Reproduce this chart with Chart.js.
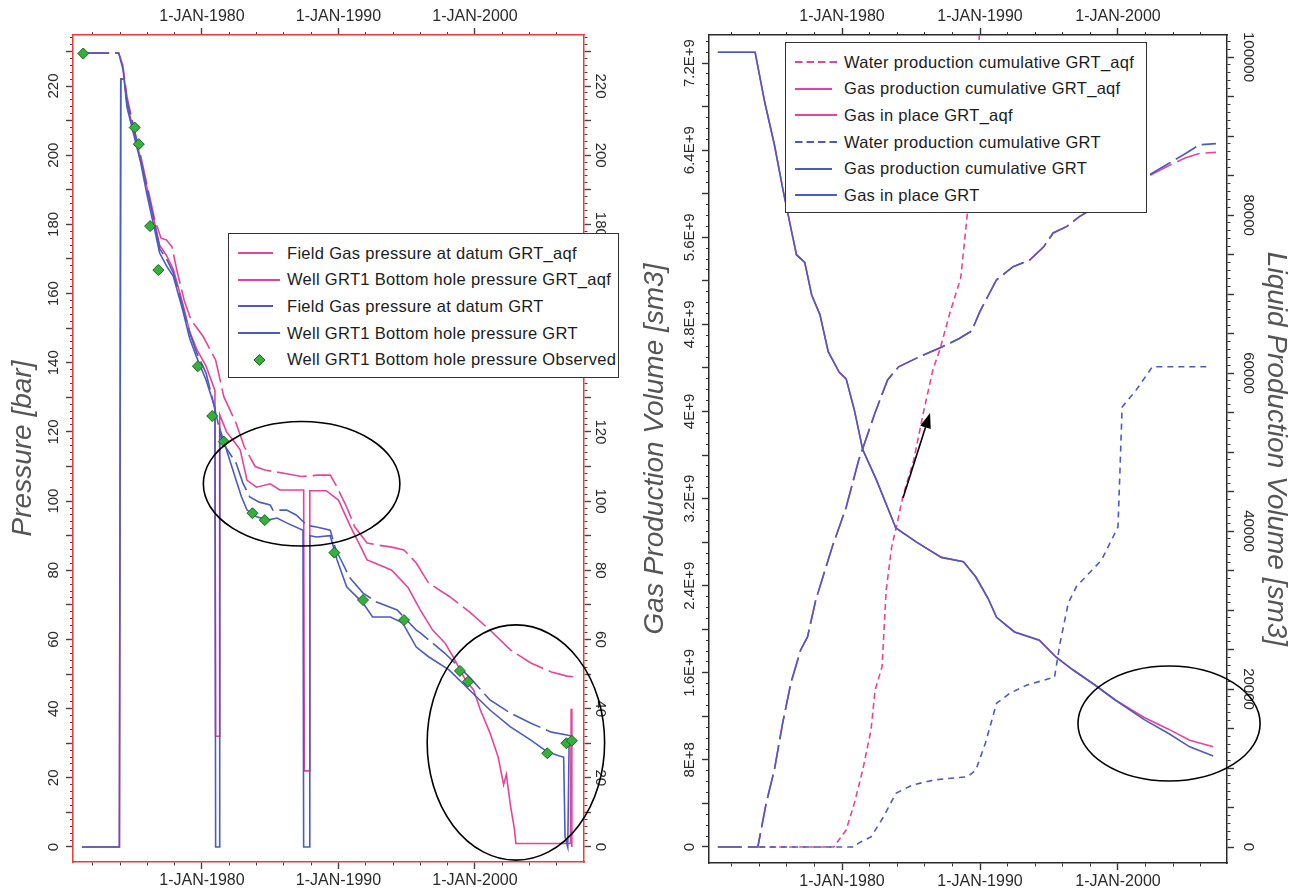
<!DOCTYPE html>
<html lang="en">
<head>
<meta charset="UTF-8">
<title>GRT pressure and production volumes</title>
<script src="https://cdn.jsdelivr.net/npm/chart.js@4.4.1/dist/chart.umd.min.js"></script>
<style>
  html, body { margin: 0; padding: 0; background: #fff; }
  #page { position: relative; width: 1289px; height: 891px; overflow: hidden; font-family: "Liberation Sans", Arial, sans-serif; }
  #page canvas { position: absolute; top: 0; }
  #pressure { left: 0; }
  #volume { left: 640px; }
  .legend { position: absolute; box-sizing: border-box; background: #fff; border: 1.5px solid #333; padding: 6px 0 0 9px; }
  .legend .row { display: flex; align-items: center; height: 26.6px; font-size: 16.5px; letter-spacing: 0.3px; color: #1c1c1c; white-space: nowrap; }
  .legend svg { flex: none; width: 49px; height: 12px; }
  #legendA { left: 228px; top: 233px; width: 391px; height: 145px; }
  #legendB { left: 785px; top: 42px; width: 362px; height: 171px; }
</style>
</head>
<body>
<div id="page">
  <canvas id="pressure" width="640" height="891"></canvas>
  <canvas id="volume" width="649" height="891"></canvas>
  <div class="legend" id="legendA"></div>
  <div class="legend" id="legendB"></div>
</div>

<script>
  // ---- pressure plot (left), [year, bar]
  const fieldAqf = [
    [1971.0, 229.5], [1973.9, 229.5], [1974.2, 226], [1974.5, 217], [1975.0, 208], [1975.5, 200],
    [1976.0, 191], [1976.5, 182], [1977.0, 176], [1977.4, 175.5], [1977.8, 173.5], [1978.2, 166],
    [1978.7, 158], [1979.2, 152.4], [1980.1, 147.5], [1981.0, 140.8], [1981.6, 130.2], [1982.5, 122.5],
    [1983.1, 115.7], [1983.9, 110], [1984.6, 109], [1985.3, 108.5], [1986.1, 108], [1987.3, 107.1],
    [1988.5, 107.5], [1989.4, 107.5], [1989.9, 104], [1990.6, 98.3], [1991.2, 92.5], [1992.1, 87.9],
    [1993.0, 87.2], [1993.9, 86.7], [1994.8, 85.9], [1995.7, 82.1], [1996.6, 76.3], [1998.1, 72.5],
    [1999.6, 68], [2001.1, 62.7], [2002.6, 57], [2004.1, 53.2], [2005.6, 50.6], [2006.75, 49.4], [2007.2, 49.2]
  ];
  const wellAqf = [
    [1971.2, 0], [1973.95, 0], [1974.05, 222], [1974.3, 222], [1974.5, 215], [1975.0, 207], [1975.5, 199],
    [1976.0, 190], [1976.5, 181], [1976.9, 174], [1977.4, 171], [1977.9, 167], [1978.6, 157], [1979.1, 149],
    [1979.6, 144], [1980.3, 139], [1980.95, 132], [1981.0, 32], [1981.25, 32], [1981.3, 125], [1981.8, 120],
    [1982.3, 117.5], [1982.8, 114.8], [1983.3, 106], [1984.0, 104], [1985.0, 105], [1985.7, 103.2],
    [1987.45, 103.2], [1987.5, 22], [1987.85, 22], [1987.9, 103], [1989.1, 103], [1990.0, 100.3],
    [1990.9, 92.5], [1991.5, 87.8], [1992.1, 83], [1992.7, 82], [1993.9, 80], [1995.1, 75], [1996.0, 68.5],
    [1996.9, 62.7], [1997.8, 59], [1998.4, 55], [1999.3, 48.3], [1999.9, 45.4], [2000.4, 39.6], [2001.1, 33],
    [2001.7, 26], [2002.1, 18], [2002.3, 21], [2002.6, 12], [2002.9, 5], [2003.0, 1], [2007.0, 1],
    [2007.05, 40], [2007.1, 0]
  ];
  const fieldGrt = [
    [1971.0, 229.5], [1973.9, 229.5], [1974.2, 225], [1974.5, 216], [1975.0, 208], [1975.5, 199],
    [1976.0, 190], [1976.5, 181], [1976.9, 173], [1977.4, 170], [1977.9, 166], [1978.6, 156],
    [1979.1, 148.6], [1979.6, 143], [1980.3, 137], [1980.8, 129], [1981.5, 117], [1982.5, 111],
    [1983.0, 105.2], [1983.5, 101.2], [1984.2, 99.7], [1985.0, 98.9], [1985.2, 97.4], [1986.2, 97.4],
    [1986.9, 96], [1987.7, 93], [1988.4, 92.5], [1989.4, 91.6], [1989.8, 86], [1990.3, 82.1], [1990.8, 78],
    [1991.8, 73.4], [1992.8, 70.8], [1994.3, 68.5], [1995.7, 62.7], [1996.0, 61.9], [1997.8, 56],
    [1999.6, 49.1], [2001.1, 42.5], [2002.6, 38.7], [2004.1, 35.8], [2005.6, 33.2], [2006.75, 32.4], [2007.1, 32]
  ];
  const wellGrt = [
    [1971.2, 0], [1973.95, 0], [1974.05, 222], [1974.3, 222], [1974.5, 214], [1975.0, 206], [1975.5, 198],
    [1976.0, 188], [1976.5, 179], [1976.9, 171.7], [1977.4, 168], [1977.9, 165], [1978.6, 155], [1979.1, 147],
    [1979.6, 141.7], [1980.3, 135], [1980.95, 127], [1981.0, 0], [1981.25, 0], [1981.3, 121], [1981.8, 114.8],
    [1982.5, 106], [1982.9, 101.2], [1983.3, 97.4], [1984.0, 95.5], [1984.8, 94.5], [1985.5, 95.1],
    [1986.2, 93.7], [1987.4, 91.6], [1987.45, 0], [1987.85, 0], [1987.9, 90], [1988.4, 89.6], [1989.4, 90],
    [1989.9, 83], [1990.6, 75.2], [1991.8, 70.5], [1992.5, 66.5], [1993.8, 66.5], [1994.7, 64.8],
    [1995.7, 57.8], [1996.6, 55], [1998.1, 51.2], [1999.6, 45.4], [2001.1, 39.6], [2002.6, 34.7],
    [2004.1, 30.9], [2005.3, 27.5], [2006.2, 26.3], [2006.5, 26], [2006.6, 3], [2006.8, 0], [2006.9, 30]
  ];
  const observed = [
    [1971.3, 229.4], [1975.07, 208], [1975.37, 203.2], [1976.2, 179.5], [1976.8, 166.8], [1979.7, 139],
    [1980.75, 124.6], [1981.6, 117.2], [1983.7, 96.5], [1984.6, 94.5], [1989.7, 85.1], [1991.8, 71.4],
    [1994.8, 65.6], [1998.9, 50.9], [1999.5, 47.8], [2005.3, 27.1], [2006.7, 30], [2007.1, 30.7]
  ];

  // ---- volume plot (right), gas [year, sm3], water [year, sm3]
  const gipGrt = [
    [1971.0, 7.30e9], [1973.7, 7.30e9], [1974.4, 6.84e9], [1975.1, 6.45e9], [1975.7, 6.05e9], [1976.4, 5.62e9],
    [1976.7, 5.44e9], [1977.3, 5.37e9], [1977.8, 5.07e9], [1978.4, 4.89e9], [1979.0, 4.55e9], [1979.8, 4.36e9],
    [1980.3, 4.30e9], [1980.9, 4.01e9], [1981.5, 3.65e9], [1982.5, 3.37e9], [1983.9, 2.93e9], [1985.4, 2.80e9],
    [1987.2, 2.66e9], [1988.8, 2.62e9], [1989.7, 2.48e9], [1990.6, 2.28e9], [1991.2, 2.11e9], [1992.5, 1.975e9],
    [1994.3, 1.90e9], [1995.5, 1.745e9], [1996.7, 1.63e9], [1998.3, 1.49e9], [1999.8, 1.35e9], [2001.9, 1.17e9],
    [2003.7, 1.04e9], [2005.2, 0.92e9], [2006.9, 0.836e9]
  ];
  const gipAqf = [
    [1971.0, 7.30e9], [1973.7, 7.30e9], [1974.4, 6.84e9], [1975.1, 6.45e9], [1975.7, 6.05e9], [1976.4, 5.62e9],
    [1976.7, 5.44e9], [1977.3, 5.37e9], [1977.8, 5.07e9], [1978.4, 4.89e9], [1979.0, 4.55e9], [1979.8, 4.36e9],
    [1980.3, 4.30e9], [1980.9, 4.01e9], [1981.5, 3.65e9], [1982.5, 3.37e9], [1983.9, 2.93e9], [1985.4, 2.80e9],
    [1987.2, 2.66e9], [1988.8, 2.62e9], [1989.7, 2.48e9], [1990.6, 2.28e9], [1991.2, 2.11e9], [1992.5, 1.975e9],
    [1994.3, 1.90e9], [1995.5, 1.745e9], [1996.7, 1.63e9], [1998.3, 1.49e9], [1999.8, 1.35e9], [2001.9, 1.19e9],
    [2003.7, 1.08e9], [2005.2, 0.98e9], [2006.9, 0.92e9]
  ];
  const gasProdGrt = [
    [1971.0, 0], [1973.9, 0], [1974.5, 0.40e9], [1975.1, 0.71e9], [1975.7, 1.14e9], [1976.3, 1.51e9],
    [1977.0, 1.81e9], [1977.5, 1.93e9], [1978.1, 2.27e9], [1979.3, 2.76e9], [1980.3, 3.12e9], [1981.2, 3.55e9],
    [1982.4, 3.99e9], [1983.3, 4.29e9], [1984.1, 4.41e9], [1985.4, 4.49e9], [1987.2, 4.59e9], [1988.5, 4.67e9],
    [1989.4, 4.74e9], [1990.0, 4.92e9], [1991.2, 5.21e9], [1992.4, 5.33e9], [1993.6, 5.39e9], [1994.6, 5.51e9],
    [1995.3, 5.64e9], [1996.3, 5.70e9], [1997.2, 5.79e9], [1998.0, 5.85e9], [1999.5, 5.95e9], [2001.0, 6.08e9],
    [2002.5, 6.19e9], [2003.7, 6.28e9], [2004.9, 6.37e9], [2005.9, 6.45e9], [2007.1, 6.46e9]
  ];
  const gasProdAqf = [
    [1971.0, 0], [1973.9, 0], [1974.5, 0.40e9], [1975.1, 0.71e9], [1975.7, 1.14e9], [1976.3, 1.51e9],
    [1977.0, 1.81e9], [1977.5, 1.93e9], [1978.1, 2.27e9], [1979.3, 2.76e9], [1980.3, 3.12e9], [1981.2, 3.55e9],
    [1982.4, 3.99e9], [1983.3, 4.29e9], [1984.1, 4.41e9], [1985.4, 4.49e9], [1987.2, 4.59e9], [1988.5, 4.67e9],
    [1989.4, 4.74e9], [1990.0, 4.92e9], [1991.2, 5.21e9], [1992.4, 5.33e9], [1993.6, 5.39e9], [1994.6, 5.51e9],
    [1995.3, 5.64e9], [1996.3, 5.70e9], [1997.2, 5.79e9], [1998.0, 5.85e9], [1999.5, 5.95e9], [2001.0, 6.08e9],
    [2002.5, 6.18e9], [2003.7, 6.26e9], [2004.9, 6.33e9], [2005.9, 6.37e9], [2007.1, 6.38e9]
  ];
  const waterAqf = [
    [1974.0, 0], [1979.4, 0], [1980.3, 2150], [1980.9, 5570], [1981.5, 9750], [1982.1, 14800], [1982.4, 19900],
    [1982.9, 22800], [1983.2, 32500], [1983.6, 38000], [1984.0, 41000], [1984.4, 44300], [1985.2, 49000],
    [1985.9, 55000], [1986.6, 60500], [1987.1, 63000], [1987.8, 67500], [1988.6, 72000], [1988.9, 77000],
    [1989.1, 80500], [1989.5, 90000], [1990.0, 104000]
  ];
  const waterGrt = [
    [1974.0, 0], [1980.9, 0], [1981.2, 500], [1982.1, 1270], [1983.0, 3800], [1983.9, 6800], [1985.1, 7850],
    [1986.7, 8500], [1989.1, 8900], [1989.7, 9750], [1990.4, 13200], [1991.2, 18200], [1992.2, 19500],
    [1993.4, 20500], [1994.6, 21100], [1995.4, 21500], [1995.8, 25800], [1996.4, 30900], [1997.0, 33000],
    [1998.8, 36300], [2000.0, 40500], [2000.15, 48000], [2000.3, 55700], [2001.3, 57800], [2002.5, 60800],
    [2006.5, 60800]
  ];

  // tick labels
  const decadeTicks = [1980, 1990, 2000];
  const pressureTicks = [0, 20, 40, 60, 80, 100, 120, 140, 160, 180, 200, 220];
  const gasTickValues = [0, 8e8, 1.6e9, 2.4e9, 3.2e9, 4e9, 4.8e9, 5.6e9, 6.4e9, 7.2e9];
  const gasTickLabels = ['0', '8E+8', '1.6E+9', '2.4E+9', '3.2E+9', '4E+9', '4.8E+9', '5.6E+9', '6.4E+9', '7.2E+9'];
  const liquidTicks = [0, 20000, 40000, 60000, 80000, 100000];

  // circled areas and the arrow, in data units
  const pressureCircles = [{x: 1987.3, y: 105, dx: 7.2, dy: 18}, {x: 2003.0, y: 30.2, dx: 6.5, dy: 34}];
  const volumeCircles = [{x: 2003.7, y: 1.134e9, dx: 6.6, dy: 5.28e8}];
  const volumeArrows = [{x0: 1984.42, y0: 3.205e9, x1: 1986.38, y1: 3.986e9}];

  const PINK = '#e6449a';
  const BLUE = '#4c5bbf';
  const TICK_LEN = 7;

  Chart.defaults.font.family = '"Liberation Sans", Arial, sans-serif';

  const toXY = arr => arr.map(p => ({x: p[0], y: p[1]}));

  function ticksEvery(from, to, step) {
    const out = [];
    for (let k = Math.ceil(from / step); k <= Math.floor(to / step); k++) out.push({value: k * step});
    return out;
  }

  function buildAxis(o) {
    const horizontal = o.position === 'top' || o.position === 'bottom';
    const outerFirst = o.position === 'top' || o.position === 'left';
    const minorDash = outerFirst ? [0, TICK_LEN - 3, 3, 40] : [3, 40];
    const major = c => c.tick && o.isMajor(c.tick.value);
    return {
      type: 'linear',
      position: o.position,
      min: o.min,
      max: o.max,
      afterBuildTicks: s => { s.ticks = ticksEvery(o.from, o.to, o.step); },
      afterFit: s => { if (horizontal) s.height = o.size; else s.width = o.size; },
      border: {display: true, color: o.frame, width: 1.5},
      grid: {
        drawOnChartArea: false,
        drawTicks: true,
        tickLength: TICK_LEN,
        tickColor: o.tickColor,
        tickWidth: c => major(c) ? 1.4 : 1,
        tickBorderDash: c => major(c) ? [] : minorDash
      },
      ticks: {
        autoSkip: false,
        minRotation: o.rotation || 0,
        maxRotation: o.rotation || 0,
        crossAlign: horizontal ? 'near' : 'center',
        padding: o.pad,
        color: '#2a2a2a',
        font: {size: o.fontSize},
        callback: v => o.label(v)
      },
      title: o.title ? {
        display: true,
        text: o.title,
        color: '#555',
        font: {size: 28, style: 'italic', lineHeight: 1},
        padding: {top: o.titlePad, bottom: 0}
      } : {display: false}
    };
  }

  const yearLabel = v => decadeTicks.includes(v) ? '1-JAN-' + v : '';
  const isDecade = v => v % 10 === 0;

  // ellipses and arrow placed through the chart scales
  const sketchMarks = {
    id: 'sketchMarks',
    afterDraw(chart, args, opts) {
      const ctx = chart.ctx;
      const xs = chart.scales.x;
      const ys = chart.scales.y;
      ctx.save();
      ctx.strokeStyle = '#000';
      ctx.fillStyle = '#000';
      ctx.lineWidth = 1.6;
      (opts.circles || []).forEach(e => {
        const cx = xs.getPixelForValue(e.x), cy = ys.getPixelForValue(e.y);
        const rx = Math.abs(xs.getPixelForValue(e.x + e.dx) - cx);
        const ry = Math.abs(ys.getPixelForValue(e.y + e.dy) - cy);
        ctx.beginPath();
        ctx.ellipse(cx, cy, rx, ry, 0, 0, Math.PI * 2);
        ctx.stroke();
      });
      (opts.arrows || []).forEach(a => {
        const x0 = xs.getPixelForValue(a.x0), y0 = ys.getPixelForValue(a.y0);
        const x1 = xs.getPixelForValue(a.x1), y1 = ys.getPixelForValue(a.y1);
        const ang = Math.atan2(y1 - y0, x1 - x0);
        const head = 15, half = 5.5;
        const bx = x1 - head * Math.cos(ang), by = y1 - head * Math.sin(ang);
        ctx.beginPath();
        ctx.moveTo(x0, y0);
        ctx.lineTo(bx, by);
        ctx.stroke();
        ctx.beginPath();
        ctx.moveTo(x1, y1);
        ctx.lineTo(bx + half * Math.sin(ang), by - half * Math.cos(ang));
        ctx.lineTo(bx - half * Math.sin(ang), by + half * Math.cos(ang));
        ctx.closePath();
        ctx.fill();
      });
      ctx.restore();
    }
  };

  const baseOptions = {
    responsive: false,
    animation: false,
    devicePixelRatio: 1,
    layout: {padding: 0},
    elements: {line: {borderWidth: 1.6, tension: 0}, point: {radius: 0}},
  };

  // ---------- left chart: pressure ----------
  const RED = '#f03a3a';
  const xA = {min: 1970.55, max: 2007.99, from: 1971, to: 2007, step: 2, isMajor: isDecade, label: yearLabel,
              frame: RED, tickColor: '#444', fontSize: 16, pad: 2};
  const yA = {min: -4.34, max: 234.75, from: 0, to: 234, step: 2, isMajor: v => v % 10 === 0,
              label: v => pressureTicks.includes(v) ? String(v) : '', frame: RED, tickColor: '#444', fontSize: 15};

  const pressureSets = [
    {label: 'Field Gas pressure at datum GRT_aqf', data: toXY(fieldAqf), borderColor: PINK,
     borderDash: [30, 6], order: 5, legendLen: 35, legendDash: null},
    {label: 'Well GRT1 Bottom hole pressure GRT_aqf', data: toXY(wellAqf), borderColor: PINK,
     order: 4, legendLen: 42},
    {label: 'Field Gas pressure at datum GRT', data: toXY(fieldGrt), borderColor: BLUE,
     borderDash: [30, 6], order: 3, legendLen: 35},
    {label: 'Well GRT1 Bottom hole pressure GRT', data: toXY(wellGrt), borderColor: BLUE,
     order: 2, legendLen: 42},
    {label: 'Well GRT1 Bottom hole pressure Observed', data: toXY(observed), showLine: false,
     pointStyle: 'rectRot', pointRadius: 5.5, pointBackgroundColor: '#34b03c', pointBorderColor: '#1c641c',
     pointBorderWidth: 1, backgroundColor: '#34b03c', borderColor: '#1c641c', order: 1}
  ];

  new Chart(document.getElementById('pressure'), {
    type: 'line',
    data: {datasets: pressureSets},
    plugins: [sketchMarks],
    options: {
      ...baseOptions,
      plugins: {legend: {display: false}, tooltip: {enabled: false}, sketchMarks: {circles: pressureCircles}},
      scales: {
        x: buildAxis({...xA, position: 'bottom', size: 29}),
        x2: buildAxis({...xA, position: 'top', size: 35}),
        y: buildAxis({...yA, position: 'left', size: 73, rotation: 90, pad: -0.5,
                      title: 'Pressure [bar]', titlePad: 9}),
        y2: buildAxis({...yA, position: 'right', size: 56, rotation: -90, pad: -3.5})
      }
    }
  });

  // ---------- right chart: production volumes ----------
  const DARK = '#2a2a2a';
  const xB = {min: 1970.36, max: 2007.9, from: 1971, to: 2007, step: 2, isMajor: isDecade, label: yearLabel,
              frame: DARK, tickColor: '#333', fontSize: 16, pad: 2};

  const volumeSets = [
    {label: 'Water production cumulative GRT_aqf', data: toXY(waterAqf), yAxisID: 'y2', borderColor: PINK,
     borderDash: [6, 4], order: 6, legendLen: 42, legendDash: '7.5 4'},
    {label: 'Gas production cumulative GRT_aqf', data: toXY(gasProdAqf), borderColor: PINK,
     borderDash: [24, 6], order: 5, legendLen: 37},
    {label: 'Gas in place GRT_aqf', data: toXY(gipAqf), borderColor: PINK, order: 4, legendLen: 42},
    {label: 'Water production cumulative GRT', data: toXY(waterGrt), yAxisID: 'y2', borderColor: BLUE,
     borderDash: [6, 5], order: 3, legendLen: 42, legendDash: '7.5 4'},
    {label: 'Gas production cumulative GRT', data: toXY(gasProdGrt), borderColor: BLUE,
     borderDash: [24, 6], order: 2, legendLen: 37},
    {label: 'Gas in place GRT', data: toXY(gipGrt), borderColor: BLUE, order: 1, legendLen: 42}
  ];

  new Chart(document.getElementById('volume'), {
    type: 'line',
    data: {datasets: volumeSets},
    plugins: [sketchMarks],
    options: {
      ...baseOptions,
      plugins: {legend: {display: false}, tooltip: {enabled: false},
                sketchMarks: {circles: volumeCircles, arrows: volumeArrows}},
      scales: {
        x: buildAxis({...xB, position: 'bottom', size: 28}),
        x2: buildAxis({...xB, position: 'top', size: 35}),
        y: buildAxis({min: -1.47e8, max: 7.458e9, from: 0, to: 7.4e9, step: 1e8, position: 'left', size: 69,
                      isMajor: v => Math.round(v / 1e8) % 4 === 0,
                      label: v => {
                        const i = gasTickValues.findIndex(t => Math.round(t / 1e8) === Math.round(v / 1e8));
                        return i >= 0 ? gasTickLabels[i] : '';
                      },
                      frame: DARK, tickColor: '#333', fontSize: 15, rotation: 90, pad: -11.5,
                      title: 'Gas Production Volume [sm3]', titlePad: 1.5}),
        y2: buildAxis({min: -2025, max: 102785, from: 0, to: 102000, step: 1000, position: 'right', size: 62,
                       isMajor: v => v % 5000 === 0,
                       label: v => liquidTicks.includes(v) ? String(v) : '',
                       frame: DARK, tickColor: '#333', fontSize: 15, rotation: -90, pad: -11,
                       title: 'Liquid Production Volume [sm3]', titlePad: -1})
      }
    }
  });

  // ---------- legends ----------
  function sample(d) {
    if (d.showLine === false) {
      return '<svg viewBox="0 0 49 12"><polygon points="21.5,0.5 27,6 21.5,11.5 16,6" fill="' +
        d.pointBackgroundColor + '" stroke="' + d.pointBorderColor + '" stroke-width="1"/></svg>';
    }
    const dash = d.legendDash ? ' stroke-dasharray="' + d.legendDash + '"' : '';
    return '<svg viewBox="0 0 49 12"><line x1="0" y1="6" x2="' + d.legendLen + '" y2="6" stroke="' +
      d.borderColor + '" stroke-width="2"' + dash + '/></svg>';
  }

  function renderLegend(id, sets) {
    document.getElementById(id).innerHTML = sets
      .map(d => '<div class="row">' + sample(d) + '<span>' + d.label + '</span></div>')
      .join('');
  }

  renderLegend('legendA', pressureSets);
  renderLegend('legendB', volumeSets);
</script>
</body>
</html>
